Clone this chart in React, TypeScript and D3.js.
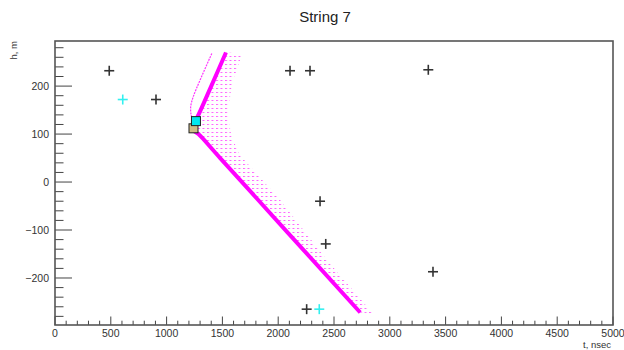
import React, { useEffect, useRef } from "react";
import * as d3 from "d3";

// hits (t in nsec, h in m)
const blackT = [486, 905, 2106, 2285, 3345, 2375, 2426, 3387, 2255];
const blackH = [232, 172, 232, 232, 234, -40, -129, -187, -265];
const cyanT = [607, 2368];
const cyanH = [172, -265];

// direct light front (thick line)
const frontT = [1532, 1400, 1275, 1248, 1238, 1248, 1285, 1480, 2735];
const frontH = [270, 200, 135, 124, 115, 106, 100, 50, -272];

// thin left curve
const thinT = [1405, 1299, 1239, 1216, 1220, 1236];
const thinH = [268, 212, 178, 157, 140, 128];

// right edge of scattered band
const bandT = [1676, 1640, 1592, 1570, 1552, 1550, 1583, 1658, 2016, 2434, 2849];
const bandH = [268, 240, 212, 180, 150, 135, 94, 56, -37, -162, -274];

// markers at the vertex
const squares = [
  { t: 1241, h: 112, color: "#cdbd86" },
  { t: 1263, h: 127, color: "#00e8f0" },
];

const xMajor = d3.range(0, 5001, 500);
const xMinor = d3.range(0, 5001, 100);
const yMajor = [-200, -100, 0, 100, 200];
const yMinor = d3.range(-280, 281, 20);

const App = () => {
  const svgRef = useRef(null);
  const W = 624;
  const H = 350;

  useEffect(() => {
    const svg = d3.select(svgRef.current);
    svg.selectAll("*").remove();

    const x = d3.scaleLinear().domain([0, 5000]).range([55, 613]);
    const y = d3.scaleLinear().domain([-298, 294]).range([325, 41]);
    const font = "Liberation Sans, Arial, sans-serif";

    svg.append("rect").attr("width", W).attr("height", H).attr("fill", "#fff");

    const defs = svg.append("defs");
    const pat = defs
      .append("pattern")
      .attr("id", "dots")
      .attr("patternUnits", "userSpaceOnUse")
      .attr("width", 4.5)
      .attr("height", 4);
    pat
      .append("rect")
      .attr("x", 0)
      .attr("y", 0)
      .attr("width", 2)
      .attr("height", 1)
      .attr("fill", "#ff33ff");

    // title
    svg
      .append("text")
      .attr("x", 325)
      .attr("y", 22)
      .attr("text-anchor", "middle")
      .attr("font-family", font)
      .attr("font-size", 15)
      .attr("fill", "#222")
      .text("String 7");

    // scattered band
    const left = frontT.map((t, i) => [x(t), y(frontH[i])]);
    const right = bandT.map((t, i) => [x(t), y(bandH[i])]).reverse();
    svg
      .append("path")
      .attr("d", d3.line()(left.concat(right)) + "Z")
      .attr("fill", "url(#dots)")
      .attr("opacity", 0.75);

    // thin curve
    svg
      .append("path")
      .attr("d", d3.line().curve(d3.curveCatmullRom)(thinT.map((t, i) => [x(t), y(thinH[i])])))
      .attr("fill", "none")
      .attr("stroke", "#ff33ff")
      .attr("stroke-width", 1.2)
      .attr("stroke-dasharray", "2,1");

    // front
    svg
      .append("path")
      .attr("d", d3.line().curve(d3.curveCatmullRom)(left))
      .attr("fill", "none")
      .attr("stroke", "#ff00ff")
      .attr("stroke-width", 4);

    // crosses
    const cross = (t, h, color) => {
      const cx = x(t);
      const cy = y(h);
      const g = svg.append("g").attr("stroke", color).attr("stroke-width", 1.6);
      g.append("line").attr("x1", cx - 5).attr("x2", cx + 5).attr("y1", cy).attr("y2", cy);
      g.append("line").attr("x1", cx).attr("x2", cx).attr("y1", cy - 5).attr("y2", cy + 5);
    };
    blackT.forEach((t, i) => cross(t, blackH[i], "#333"));
    cyanT.forEach((t, i) => cross(t, cyanH[i], "#33f0f0"));

    // squares
    squares.forEach((s) => {
      svg
        .append("rect")
        .attr("x", x(s.t) - 4.5)
        .attr("y", y(s.h) - 4.5)
        .attr("width", 9)
        .attr("height", 9)
        .attr("fill", s.color)
        .attr("stroke", "#222")
        .attr("stroke-width", 1);
    });

    // ticks
    const axisColor = "#444";
    const tk = svg.append("g").attr("stroke", axisColor).attr("stroke-width", 1);
    xMinor.forEach((v) => {
      const len = v % 500 === 0 ? 8.5 : 4.3;
      tk.append("line").attr("x1", x(v)).attr("x2", x(v)).attr("y1", 325).attr("y2", 325 - len);
    });
    yMinor.forEach((v) => {
      const len = v % 100 === 0 ? 17 : 8.5;
      tk.append("line").attr("x1", 55).attr("x2", 55 + len).attr("y1", y(v)).attr("y2", y(v));
    });

    // frame
    svg
      .append("rect")
      .attr("x", 55)
      .attr("y", 41)
      .attr("width", 558)
      .attr("height", 284)
      .attr("fill", "none")
      .attr("stroke", "#555")
      .attr("stroke-width", 1.6);

    // tick labels
    xMajor.forEach((v) => {
      svg
        .append("text")
        .attr("x", x(v))
        .attr("y", 337)
        .attr("text-anchor", "middle")
        .attr("font-family", font)
        .attr("font-size", 10.5)
        .attr("fill", "#333")
        .text(v);
    });
    yMajor.forEach((v) => {
      svg
        .append("text")
        .attr("x", 49)
        .attr("y", y(v) + 3.8)
        .attr("text-anchor", "end")
        .attr("font-family", font)
        .attr("font-size", 10.5)
        .attr("fill", "#333")
        .text(v < 0 ? "\u2212" + Math.abs(v) : v);
    });

    // axis titles
    svg
      .append("text")
      .attr("x", 611)
      .attr("y", 348)
      .attr("text-anchor", "end")
      .attr("font-family", font)
      .attr("font-size", 9.5)
      .attr("fill", "#333")
      .text("t, nsec");
    svg
      .append("text")
      .attr("transform", "translate(17,41) rotate(-90)")
      .attr("text-anchor", "end")
      .attr("font-family", font)
      .attr("font-size", 9.5)
      .attr("fill", "#333")
      .text("h, m");
  }, []);

  return (
    <svg
      ref={svgRef}
      width={W}
      height={H}
      style={{ position: "absolute", left: 0, top: 0 }}
    ></svg>
  );
};

export default App;
